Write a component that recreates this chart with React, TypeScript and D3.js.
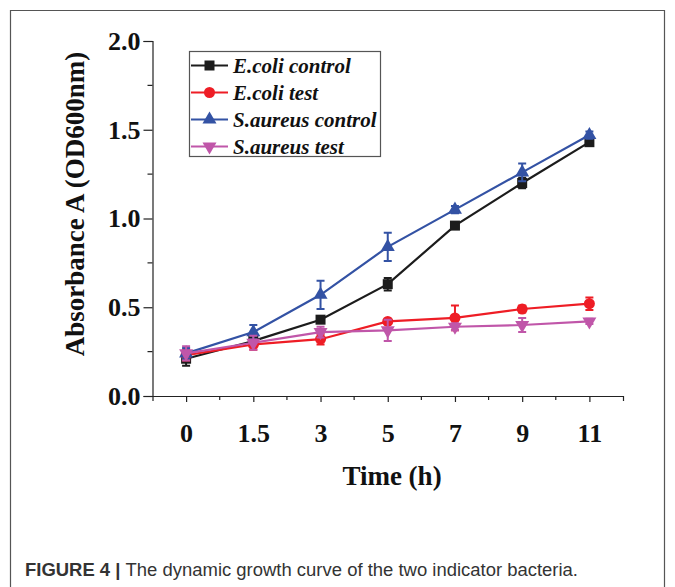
import React, { useEffect, useRef } from "react";
import * as d3 from "d3";

const timeLabels = ["0", "1.5", "3", "5", "7", "9", "11"];
const yTicks = [0, 0.5, 1.0, 1.5, 2.0];

const ecoliControl = [0.21, 0.31, 0.43, 0.63, 0.96, 1.2, 1.43];
const ecoliControlErr = [0.04, 0.02, 0.015, 0.035, 0.015, 0.03, 0.02];
const ecoliTest = [0.23, 0.29, 0.32, 0.42, 0.44, 0.49, 0.52];
const ecoliTestErr = [0.03, 0.03, 0.03, 0.01, 0.07, 0.02, 0.035];
const saureusControl = [0.24, 0.36, 0.57, 0.84, 1.05, 1.26, 1.47];
const saureusControlErr = [0.03, 0.04, 0.08, 0.08, 0.02, 0.05, 0.02];
const saureusTest = [0.24, 0.3, 0.36, 0.37, 0.39, 0.4, 0.42];
const saureusTestErr = [0.04, 0.04, 0.03, 0.06, 0.02, 0.04, 0.015];

const seriesNames = ["E.coli control", "E.coli test", "S.aureus control", "S.aureus test"];
const seriesValues = [ecoliControl, ecoliTest, saureusControl, saureusTest];
const seriesErrors = [ecoliControlErr, ecoliTestErr, saureusControlErr, saureusTestErr];
const seriesColors = ["#1c1c1c", "#ee1d25", "#3352a4", "#c056a9"];
const seriesMarkers = ["square", "circle", "triangle", "down"];

const serif = "'Liberation Serif', 'Times New Roman', serif";

export default function App() {
  const ref: any = useRef(null);

  useEffect(() => {
    const width = 675;
    const height = 587;
    const root = d3.select(ref.current);
    root.selectAll("*").remove();

    const svg = root
      .append("svg")
      .attr("width", width)
      .attr("height", height)
      .style("position", "absolute")
      .style("left", "0px")
      .style("top", "0px")
      .style("background", "#fff");

    // frame of the figure
    svg
      .append("path")
      .attr("d", `M10.5,${height} V10.5 H664.5 V${height}`)
      .attr("fill", "none")
      .attr("stroke", "#555")
      .attr("stroke-width", 1.2);

    // scales: x is categorical with equal spacing
    const x = d3.scaleLinear().domain([-0.5, timeLabels.length - 0.5]).range([152.5, 623]);
    const y = d3.scaleLinear().domain([0, 2]).range([396, 41]);

    const axisColor = "#222";

    // y axis
    const yAxis = svg.append("g").attr("transform", "translate(152.5,0)");
    yAxis
      .call(
        d3
          .axisLeft(y)
          .tickValues(yTicks)
          .tickFormat(d3.format(".1f"))
          .tickSize(9)
          .tickPadding(3)
      )
      .call((g: any) => g.select(".domain").attr("stroke", axisColor).attr("stroke-width", 1.2))
      .call((g: any) => g.selectAll(".tick line").attr("stroke", axisColor).attr("stroke-width", 1.2))
      .call((g: any) =>
        g
          .selectAll("text")
          .attr("fill", "#111")
          .style("font-family", serif)
          .style("font-weight", "bold")
          .style("font-size", "26px")
      );
    yAxis
      .selectAll(".minor")
      .data([0.25, 0.75, 1.25, 1.75])
      .enter()
      .append("line")
      .attr("x1", -5)
      .attr("x2", 0)
      .attr("y1", (d: number) => y(d))
      .attr("y2", (d: number) => y(d))
      .attr("stroke", axisColor)
      .attr("stroke-width", 1.2);

    // x axis
    const xAxis = svg.append("g").attr("transform", "translate(0,396)");
    xAxis
      .call(
        d3
          .axisBottom(x)
          .tickValues(d3.range(timeLabels.length))
          .tickFormat((d: any) => timeLabels[d])
          .tickSize(6)
          .tickPadding(22)
          .tickSizeOuter(5)
      )
      .call((g: any) => g.select(".domain").attr("stroke", axisColor).attr("stroke-width", 1.2))
      .call((g: any) => g.selectAll(".tick line").attr("stroke", axisColor).attr("stroke-width", 1.2))
      .call((g: any) =>
        g
          .selectAll("text")
          .attr("fill", "#111")
          .style("font-family", serif)
          .style("font-weight", "bold")
          .style("font-size", "26px")
      );
    xAxis
      .selectAll(".minor")
      .data(d3.range(timeLabels.length - 1).map((i) => i + 0.5))
      .enter()
      .append("line")
      .attr("x1", (d: number) => x(d))
      .attr("x2", (d: number) => x(d))
      .attr("y1", 0)
      .attr("y2", 4)
      .attr("stroke", axisColor)
      .attr("stroke-width", 1.2);

    // axis titles
    svg
      .append("text")
      .attr("x", 392)
      .attr("y", 485)
      .attr("text-anchor", "middle")
      .style("font-family", serif)
      .style("font-weight", "bold")
      .style("font-size", "27px")
      .attr("fill", "#111")
      .text("Time (h)");

    svg
      .append("text")
      .attr("transform", "translate(84,204) rotate(-90)")
      .attr("text-anchor", "middle")
      .style("font-family", serif)
      .style("font-weight", "bold")
      .style("font-size", "27px")
      .attr("fill", "#111")
      .text("Absorbance A (OD600nm)");

    const drawMarker = (g: any, kind: string, color: string, cx: number, cy: number) => {
      if (kind === "square") {
        g.append("rect")
          .attr("x", cx - 5)
          .attr("y", cy - 5)
          .attr("width", 10)
          .attr("height", 10)
          .attr("fill", color);
      } else if (kind === "circle") {
        g.append("circle").attr("cx", cx).attr("cy", cy).attr("r", 5.5).attr("fill", color);
      } else {
        const sym = d3.symbol().type(d3.symbolTriangle).size(85);
        g.append("path")
          .attr("d", sym())
          .attr("transform", `translate(${cx},${cy}) rotate(${kind === "down" ? 180 : 0})`)
          .attr("fill", color);
      }
    };

    const line = d3
      .line<number>()
      .x((_d, i) => x(i))
      .y((d) => y(d));

    seriesValues.forEach((vals, si) => {
      const color = seriesColors[si];
      const errs = seriesErrors[si];
      const g = svg.append("g");
      g.append("path")
        .attr("d", line(vals))
        .attr("fill", "none")
        .attr("stroke", color)
        .attr("stroke-width", 2.2);
      vals.forEach((v, i) => {
        const cx = x(i);
        const top = y(v + errs[i]);
        const bot = y(v - errs[i]);
        g.append("path")
          .attr("d", `M${cx},${top}V${bot}M${cx - 4},${top}H${cx + 4}M${cx - 4},${bot}H${cx + 4}`)
          .attr("fill", "none")
          .attr("stroke", color)
          .attr("stroke-width", 2);
        drawMarker(g, seriesMarkers[si], color, cx, y(v));
      });
    });

    // legend
    const legend = svg.append("g");
    legend
      .append("rect")
      .attr("x", 189.5)
      .attr("y", 51.5)
      .attr("width", 191)
      .attr("height", 105)
      .attr("fill", "#fff")
      .attr("stroke", "#555")
      .attr("stroke-width", 1.2);
    seriesNames.forEach((name, si) => {
      const ly = 65.5 + si * 27;
      legend
        .append("line")
        .attr("x1", 191)
        .attr("x2", 228)
        .attr("y1", ly)
        .attr("y2", ly)
        .attr("stroke", seriesColors[si])
        .attr("stroke-width", 2.2);
      drawMarker(legend, seriesMarkers[si], seriesColors[si], 209.5, ly);
      legend
        .append("text")
        .attr("x", 233)
        .attr("y", ly + 7)
        .style("font-family", serif)
        .style("font-weight", "bold")
        .style("font-style", "italic")
        .style("font-size", "21px")
        .attr("fill", "#111")
        .text(name);
    });

    // caption
    const cap = svg
      .append("text")
      .attr("x", 25)
      .attr("y", 576)
      .attr("textLength", 553)
      .attr("lengthAdjust", "spacingAndGlyphs")
      .style("font-family", "'Liberation Sans', Arial, sans-serif")
      .style("font-size", "17.5px")
      .attr("fill", "#333");
    cap.append("tspan").style("font-weight", "bold").text("FIGURE 4 | ");
    cap.append("tspan").text("The dynamic growth curve of the two indicator bacteria.");
  }, []);

  return <div ref={ref} style={{ width: 675, height: 587 }}></div>;
}
